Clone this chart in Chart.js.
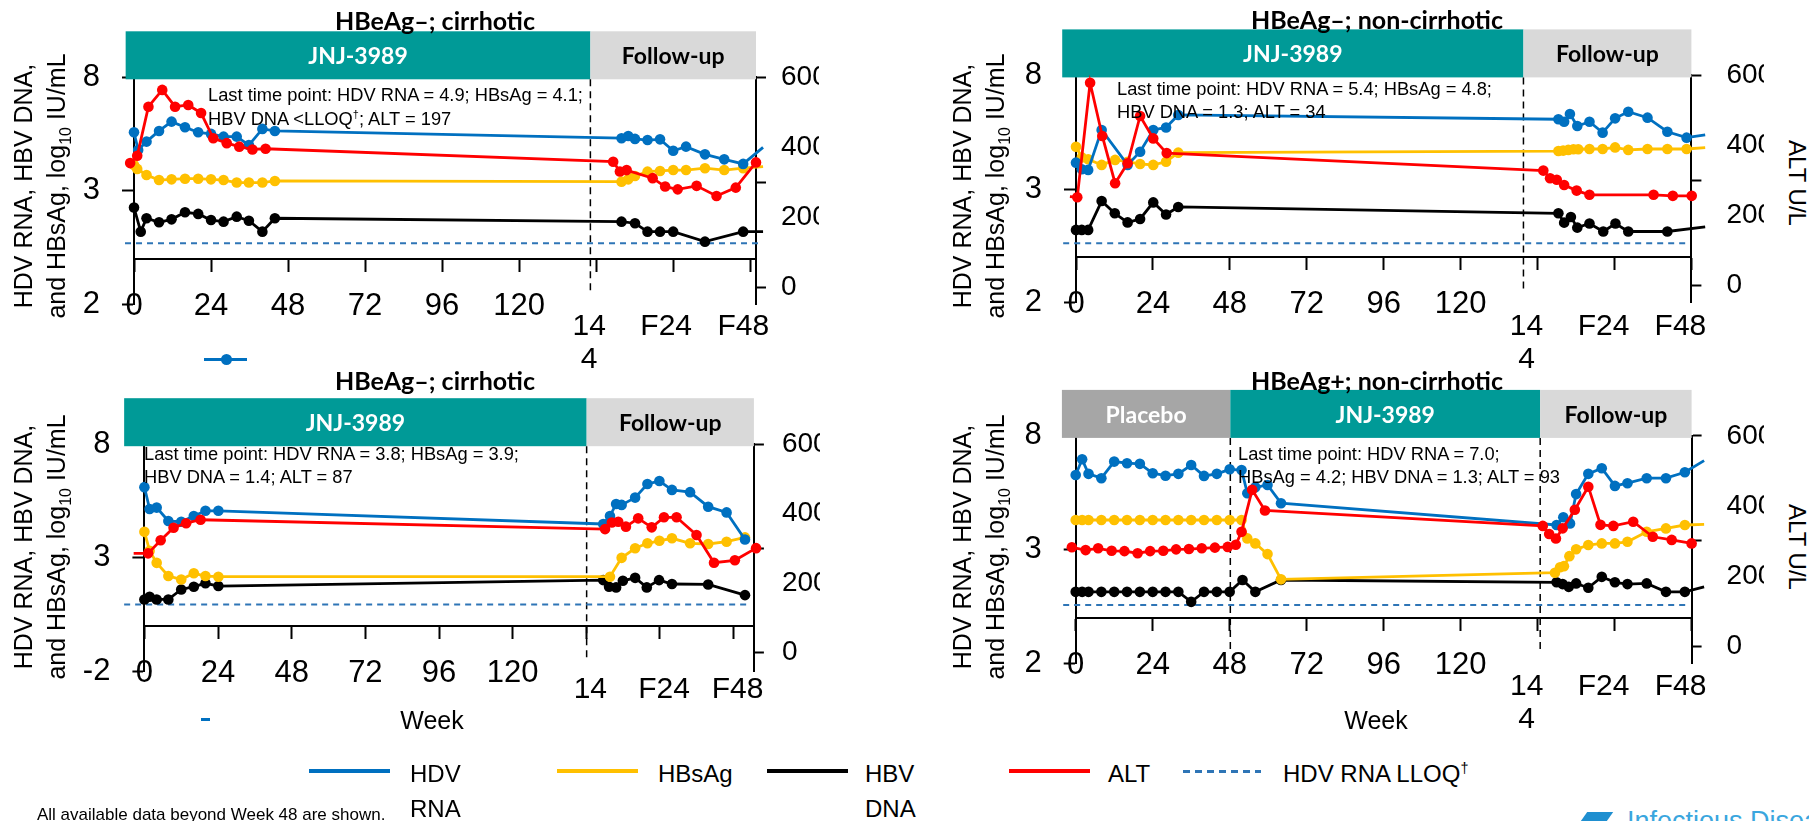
<!DOCTYPE html>
<html>
<head>
<meta charset="utf-8">
<title>HDV RNA, HBV DNA, HBsAg and ALT over time</title>
<script src="https://cdn.jsdelivr.net/npm/chart.js@4.4.1/dist/chart.umd.min.js"></script>
<style>
  html, body { margin: 0; padding: 0; background: #fff; overflow: hidden; }
  #page { position: relative; width: 1809px; height: 821px; overflow: hidden; background: #fff; }
  canvas { position: absolute; }
  .txt { position: absolute; white-space: nowrap; color: #000; }
  .title { font: bold 25px Lato, sans-serif; transform: translate(-50%, -50%); }
  .band { font: bold 23px Lato, sans-serif; transform: translate(-50%, -50%); }
  .note { font: 18.3px "Liberation Sans", Arial, sans-serif; line-height: 23.3px; }
  .note sup, .legtxt sup { font-size: 60%; line-height: 0; }
  .ytitle { font: 25px "Liberation Sans", Arial, sans-serif; line-height: 33px; text-align: center;
            transform: translate(-50%, -50%) rotate(-90deg); }
  .ytitle sub { font-size: 16px; line-height: 0; }
  .alttitle { font: 24px "Liberation Sans", Arial, sans-serif; transform: translate(-50%, -50%) rotate(90deg); }
  .week { font: 25px "Liberation Sans", Arial, sans-serif; transform: translate(-50%, -50%); }
  .legline { position: absolute; height: 4px; }
  .legtxt { position: absolute; font: 24px "Liberation Sans", Arial, sans-serif; line-height: 35px; white-space: nowrap; }
  .foot { position: absolute; left: 37px; top: 805px; font: 17px "Liberation Sans", Arial, sans-serif; white-space: nowrap; }
  .logo { position: absolute; left: 1627px; top: 806px; font: 27px "Liberation Sans", Arial, sans-serif; color: #3aa6de; white-space: nowrap; }
</style>
</head>
<body>
<div id="page">
  <canvas id="c1" width="819" height="380" style="left:0px;top:0px"></canvas>
  <canvas id="c2" width="764" height="380" style="left:1000px;top:0px"></canvas>
  <canvas id="c3" width="820" height="380" style="left:0px;top:360px"></canvas>
  <canvas id="c4" width="764" height="380" style="left:1000px;top:360px"></canvas>
</div>
<script>
// axis ticks
const weekTicks = [0, 24, 48, 72, 96, 120, 144, 168, 192];
const followTicks = [144, 168, 192];
const logTicks = [-2, 3, 8];
const altTicks = [0, 200, 300, 400, 600];

const titles = ['HBeAg–; cirrhotic', 'HBeAg–; non-cirrhotic', 'HBeAg–; cirrhotic', 'HBeAg+; non-cirrhotic'];
const notes = [
  ['Last time point: HDV RNA = 4.9; HBsAg = 4.1;', 'HBV DNA &lt;LLOQ<sup>†</sup>; ALT = 197'],
  ['Last time point: HDV RNA = 5.4; HBsAg = 4.8;', 'HBV DNA = 1.3; ALT = 34'],
  ['Last time point: HDV RNA = 3.8; HBsAg = 3.9;', 'HBV DNA = 1.4; ALT = 87'],
  ['Last time point: HDV RNA = 7.0;', 'HBsAg = 4.2; HBV DNA = 1.3; ALT = 93']
];
const logTickText = [['2', '3', '8'], ['2', '3', '8'], ['-2', '3', '8'], ['2', '3', '8']];
const followText = [
  [['14', '4'], 'F24', 'F48'],
  [['14', '4'], 'F24', 'F48'],
  ['14', 'F24', 'F48'],
  [['14', '4'], 'F24', 'F48']
];

// [week, value]; HDV/HBsAg/HBV in log10 IU/mL, ALT in U/L
const p1Alt = [[-3.3,352],[-1.2,355],[1,376],[4.5,516],[8.8,564],[12.8,516],[16.9,521],[20.9,498],[24.7,426],[28.9,412],[32.8,402],[36.9,394],[41,396],
  [149.3,359],[151.4,331],[153.5,335],[161.6,312],[165.5,288],[169.4,280],[175.3,290],[181.5,261],[187.5,285],[193.8,357]];
const p1Hdv = [[0,5.58],[1.3,4.8],[3.9,5.17],[7.8,5.64],[11.7,6.05],[15.9,5.8],[20,5.58],[24,5.51],[27.9,5.39],[32,5.39],[35.8,5.02],[40,5.73],[43.9,5.64],
  [151.9,5.32],[154,5.42],[156.1,5.29],[160,5.24],[163.9,5.27],[168,4.77],[172,4.95],[177.9,4.61],[183.9,4.39],[189.8,4.19],[196,4.92]];
const p1Hbs = [[0,4.14],[1,3.97],[3.9,3.7],[7.8,3.48],[11.7,3.51],[15.9,3.54],[20,3.54],[24,3.51],[27.9,3.48],[32,3.37],[35.8,3.37],[40,3.37],[43.9,3.44],
  [151.9,3.41],[154,3.51],[156.1,3.66],[160,3.85],[163.9,3.88],[168,3.92],[172,3.92],[177.9,4.0],[183.9,3.92],[189.8,4.0],[196,4.07]];
const p1Hbv = [[0,2.27],[2.1,1.21],[3.9,1.8],[7.8,1.62],[11.7,1.75],[15.9,2.06],[20,1.99],[24,1.72],[27.9,1.65],[32,1.87],[35.8,1.69],[40,1.21],[43.9,1.8],
  [151.9,1.65],[156.1,1.58],[160,1.21],[163.9,1.21],[168,1.21],[177.9,0.77],[189.8,1.21],[196,1.21]];
const p1Lloq = [[-2.8,0.7],[194.4,0.7]];
const p1Phases = [['JNJ-3989',-2.6,142.2],['Follow-up',142.2,193.8]];

const p2Alt = [[-4,261],[-1.9,254],[0.4,252],[4.4,579],[8.2,427],[12.2,292],[16.1,349],[20,484],[24.1,420],[28.3,378],
  [145.8,328],[147.9,306],[150,302],[152.3,287],[156.2,271],[160.2,259],[180.2,259],[186.2,256],[192.1,256]];
const p2Hdv = [[0,4.16],[1.8,3.87],[3.8,3.84],[8,5.6],[16.1,4.06],[20,4.64],[24.1,5.6],[28.1,5.71],[31.9,6.26],
  [150.5,6.07],[152.3,5.96],[154.1,6.3],[156.4,5.77],[160.2,5.96],[164.3,5.48],[168.2,6.11],[172.3,6.4],[178.3,6.14],[184.5,5.52],[190.5,5.26],[196.3,5.38]];
const p2Hbs = [[0,4.86],[1.8,4.39],[3.8,4.31],[8,4.06],[12.2,4.28],[16.1,4.2],[20,4.1],[24.1,4.06],[28.1,4.2],[31.9,4.6],
  [150.5,4.67],[152,4.69],[153.6,4.72],[155.2,4.75],[156.7,4.75],[160.2,4.76],[164.3,4.76],[168.2,4.83],[172.3,4.72],[178.3,4.76],[184.5,4.76],[190.5,4.76],[196.3,4.82]];
const p2Hbv = [[0,1.2],[1.8,1.2],[3.8,1.2],[8,2.47],[12.1,1.93],[16.1,1.53],[20,1.68],[24.1,2.41],[28.1,1.88],[31.9,2.21],
  [150.5,1.93],[152.3,1.52],[154.4,1.77],[156.4,1.3],[160.2,1.48],[164.5,1.13],[168.3,1.48],[172.3,1.13],[184.5,1.13],[196.3,1.33]];
const p2Lloq = [[-4,0.61],[190.5,0.61]];
const p2Phases = [['JNJ-3989',-4.3,139.6],['Follow-up',139.6,192]];

const p3Alt = [[-7.6,290],[-5.5,286],[-3.5,285],[1.2,285],[5.3,323],[9.5,359],[13.6,372],[18.3,382],
  [150.1,355],[152.3,374],[154.4,376],[156.9,362],[160.9,386],[165.3,360],[169.3,389],[173.4,389],[179.9,338],[185.6,258],[192.4,265],[199.3,300]];
const p3Hdv = [[0,6.11],[1.7,5.15],[4,5.21],[7.8,4.62],[12,4.59],[16.1,4.84],[19.9,5.07],[24.1,5.07],
  [149.5,4.49],[151.7,4.84],[153.7,5.37],[155.5,5.33],[159.9,5.65],[163.9,6.25],[167.8,6.38],[171.9,5.99],[177.8,5.89],[183.7,5.25],[189.7,5.0],[195.7,3.81]];
const p3Hbs = [[0,4.15],[1.7,3.31],[4,2.78],[7.8,2.2],[12,2.05],[16.1,2.32],[19.9,2.2],[24.1,2.17],
  [151.7,2.17],[155.5,3.0],[159.9,3.42],[163.9,3.64],[167.8,3.75],[171.9,3.86],[177.8,3.64],[183.7,3.61],[189.7,3.71],[195.7,3.9]];
const p3Hbv = [[0,1.17],[1.7,1.29],[4,1.17],[7.8,1.17],[12,1.61],[16.1,1.73],[19.9,1.88],[24.1,1.76],
  [149.5,2.02],[151.4,1.73],[153.7,1.7],[155.9,1.99],[159.9,2.12],[163.7,1.7],[167.7,2.02],[171.9,1.85],[183.7,1.83],[195.7,1.36]];
const p3Lloq = [[-6.6,0.95],[196.5,0.95]];
const p3Phases = [['JNJ-3989',-6.6,144.1],['Follow-up',144.1,198.6]];

const p4Alt = [[-5.4,282],[-3.3,282],[-1.2,282],[3.1,274],[7,279],[11.2,272],[15.2,271],[19.3,265],[23.2,271],[27.3,272],[31.3,276],[35.3,277],[39.3,279],[43.4,281],[47.4,283],[49.9,289],[51.7,326],[55,446],[59,387],
  [145.6,343],[147.6,320],[149.7,307],[151.8,336],[155.6,389],[159.8,455],[163.6,346],[167.6,343],[173.8,355],[179.9,312],[185.8,303],[192,293]];
const p4Hdv = [[0,6.28],[2,6.97],[4,6.33],[8,6.14],[12,6.87],[16,6.8],[20,6.77],[24,6.36],[28,6.25],[32,6.33],[36,6.72],[40,6.24],[44,6.33],[48,6.53],[51.7,6.5],[53.5,5.48],[56,5.74],[59.8,5.84],[64,5.04],
  [149.9,4.08],[152,4.42],[154.1,4.15],[156,5.44],[159.8,6.33],[164,6.58],[168.1,5.8],[172,5.92],[178,6.14],[184,6.14],[189.9,6.4],[195.9,6.91]];
const p4Hbs = [[0,4.3],[2,4.3],[4,4.3],[8,4.3],[12,4.3],[16,4.3],[20,4.3],[24,4.3],[28,4.3],[32,4.3],[36,4.3],[40,4.3],[44,4.3],[48,4.3],[51.7,4.3],[53.5,3.49],[56,3.27],[59.8,2.8],[64,1.69],
  [149.4,1.98],[151,2.22],[152.2,2.27],[153.9,2.71],[156,3.01],[159.8,3.2],[164,3.27],[168.1,3.27],[172,3.34],[178,3.78],[184,3.93],[189.9,4.08],[195.9,4.11]];
const p4Hbv = [[0,1.14],[2,1.14],[4,1.14],[8,1.14],[12,1.14],[16,1.14],[20,1.14],[24,1.14],[28,1.14],[32,1.14],[36,0.7],[40,1.14],[44,1.14],[48,1.14],[52,1.66],[56,1.14],[64,1.66],
  [149.9,1.56],[151.8,1.48],[153.7,1.36],[156,1.51],[159.8,1.32],[164,1.8],[168.1,1.56],[172,1.48],[178,1.51],[184,1.14],[189.9,1.14],[195.9,1.36]];
const p4Lloq = [[-3.9,0.56],[190.6,0.56]];
const p4Phases = [['Placebo',-4.3,48.2],['JNJ-3989',48.2,144.8],['Follow-up',144.8,192]];

const panelData = [
  {alt: p1Alt, hdv: p1Hdv, hbs: p1Hbs, hbv: p1Hbv, lloq: p1Lloq, phases: p1Phases},
  {alt: p2Alt, hdv: p2Hdv, hbs: p2Hbs, hbv: p2Hbv, lloq: p2Lloq, phases: p2Phases},
  {alt: p3Alt, hdv: p3Hdv, hbs: p3Hbs, hbv: p3Hbv, lloq: p3Lloq, phases: p3Phases},
  {alt: p4Alt, hdv: p4Hdv, hbs: p4Hbs, hbv: p4Hbv, lloq: p4Lloq, phases: p4Phases}
];

// looks and placement
const seriesStyle = [
  {key: 'alt', color: '#ff0000', axis: 'y3'},
  {key: 'hdv', color: '#0070c0', axis: 'y'},
  {key: 'hbs', color: '#ffc000', axis: 'y'},
  {key: 'hbv', color: '#000000', axis: 'y'}
];
const phaseColors = {'JNJ-3989': '#009a97', 'Follow-up': '#d9d9d9', 'Placebo': '#a6a6a6'};

const layout = [
  {id: 'c1', left: 0, top: 0, axisW: 134, rightW: 63, padTop: 77.3, padBottom: 75.4, xMax: 193.8, altMin: -49, rightPad: 15, followPad: 51.5, followOffset: -7,
   title: [435, 20], note: [208, 95], ytitle: [39.5, 186], alt: null},
  {id: 'c2', left: 1000, top: 0, axisW: 76, rightW: 72.6, padTop: 75.4, padBottom: 77.4, xMax: 192, altMin: -49, rightPad: 25, followPad: 53.5, followOffset: -11,
   title: [1377, 19], note: [1117, 88.3], ytitle: [978.5, 186], alt: [1797, 183]},
  {id: 'c3', left: 0, top: 360, axisW: 144.4, rightW: 66.1, padTop: 84.2, padBottom: 68.5, xMax: 198.6, altMin: -56, rightPad: 18, followPad: 47.5, followOffset: 4,
   title: [435, 380], note: [144, 453.3], ytitle: [39.5, 547], alt: null},
  {id: 'c4', left: 1000, top: 360, axisW: 75.7, rightW: 72.4, padTop: 75.9, padBottom: 76.8, xMax: 192, altMin: -49, rightPad: 25, followPad: 52.5, followOffset: -11,
   title: [1377, 380], note: [1238, 453.3], ytitle: [978.5, 547], alt: [1797, 547]}
];

const page = document.getElementById('page');
function addText(html, x, y, cls, color) {
  const d = document.createElement('div');
  d.className = 'txt ' + cls;
  d.innerHTML = html;
  d.style.left = x + 'px';
  d.style.top = y + 'px';
  if (color) d.style.color = color;
  page.appendChild(d);
  return d;
}

// treatment phase bands above the plot and dashed lines at phase changes
const phasePlugin = {
  id: 'phases',
  beforeDatasetsDraw(chart, args, opts) {
    const {ctx, chartArea, scales} = chart;
    const x = scales.x, y = scales.y;
    ctx.save();
    opts.phases.forEach(([label, a, b]) => {
      const x0 = x.getPixelForValue(a), x1 = x.getPixelForValue(b);
      ctx.fillStyle = phaseColors[label];
      ctx.fillRect(x0, chartArea.top - 46, x1 - x0, 48);
    });
    ctx.setLineDash([7, 5]);
    ctx.lineWidth = 1.5;
    ctx.strokeStyle = '#000';
    opts.phases.slice(1).forEach(([, a]) => {
      const px = x.getPixelForValue(a);
      ctx.beginPath();
      ctx.moveTo(px, chartArea.top + 2);
      ctx.lineTo(px, y.getPixelForValue(-1.5));
      ctx.stroke();
    });
    ctx.restore();
  }
};

const tickFont = {family: 'Liberation Sans', size: 31};
// the week axes sit inside the plot, so keep their label padding out of the layout
const noSidePadding = s => { s.paddingLeft = 0; s.paddingRight = 0; };

function buildPanel(i) {
  const L = layout[i], D = panelData[i];
  const datasets = seriesStyle.map(s => ({
    label: s.key,
    data: D[s.key].map(([x, y]) => ({x, y})),
    xAxisID: 'x', yAxisID: s.axis,
    borderColor: s.color, backgroundColor: s.color, pointBackgroundColor: s.color,
    pointBorderWidth: 0, pointRadius: 5.3, borderWidth: 2.8, clip: false
  }));
  datasets.push({
    label: 'lloq',
    data: D.lloq.map(([x, y]) => ({x, y})),
    xAxisID: 'x', yAxisID: 'y',
    borderColor: '#2e75b6', borderDash: [6, 5], borderWidth: 2, pointRadius: 0, clip: false
  });

  const chart = new Chart(document.getElementById(L.id), {
    type: 'line',
    data: {datasets},
    options: {
      responsive: false,
      animation: false,
      events: [],
      layout: {padding: {left: 0, right: 0, top: L.padTop, bottom: L.padBottom}},
      plugins: {legend: {display: false}, tooltip: {enabled: false}, phases: {phases: D.phases}},
      scales: {
        x: {
          type: 'linear', min: 0, max: L.xMax, position: {y: 0},
          afterBuildTicks: s => { s.ticks = weekTicks.map(v => ({value: v})); },
          afterFit: noSidePadding,
          ticks: {callback: v => (v <= 120 ? String(v) : ''), font: tickFont, color: '#000', padding: 17, maxRotation: 0, autoSkip: false},
          grid: {drawOnChartArea: false, tickLength: 12, tickWidth: 2, tickColor: '#000'},
          border: {color: '#000', width: 2}
        },
        x2: {
          type: 'linear', min: 0, max: L.xMax, position: {y: 0},
          afterBuildTicks: s => { s.ticks = followTicks.map(v => ({value: v})); },
          afterFit: noSidePadding,
          ticks: {callback: (v, idx) => followText[i][idx], font: {family: 'Liberation Sans', size: 30, lineHeight: 1.1},
                  color: '#000', padding: L.followPad, labelOffset: L.followOffset, maxRotation: 0, autoSkip: false},
          grid: {display: false, drawTicks: false},
          border: {display: false}
        },
        y: {
          type: 'linear', position: 'left', min: -2, max: 8,
          afterBuildTicks: s => { s.ticks = logTicks.map(v => ({value: v})); },
          afterFit: s => { s.width = L.axisW; },
          ticks: {callback: (v, idx) => logTickText[i][idx], font: tickFont, color: '#000', padding: 22},
          grid: {drawOnChartArea: false, tickLength: 12, tickWidth: 2, tickColor: '#000'},
          border: {color: '#000', width: 2}
        },
        y3: {
          type: 'linear', position: 'right', min: L.altMin, max: 600,
          afterBuildTicks: s => { s.ticks = altTicks.map(v => ({value: v})); },
          afterFit: s => { s.width = L.rightW; },
          ticks: {callback: v => (v === 300 ? '' : String(v)), font: {family: 'Liberation Sans', size: 28}, color: '#000', padding: L.rightPad},
          grid: {drawOnChartArea: false, tickLength: 10, tickWidth: 2,
                 tickColor: c => (c.tick && c.tick.value % 300 === 0 ? '#000' : 'rgba(0,0,0,0)')},
          border: {color: '#000', width: 2}
        }
      }
    },
    plugins: [phasePlugin]
  });

  // labels on the phase bands
  D.phases.forEach(([label, a, b]) => {
    const cx = L.left + chart.scales.x.getPixelForValue((a + b) / 2);
    const cy = L.top + chart.chartArea.top - 22;
    addText(label, cx, cy, 'band', label === 'Follow-up' ? '#000' : '#fff');
  });

  addText(titles[i], L.title[0], L.title[1], 'title');
  addText(notes[i].join('<br>'), L.note[0], L.note[1] - 11.65, 'note');
  addText('HDV RNA, HBV DNA,<br>and HBsAg, log<sub>10</sub> IU/mL', L.ytitle[0], L.ytitle[1], 'ytitle');
  if (L.alt) addText('ALT U/L', L.alt[0], L.alt[1], 'alttitle');
}

for (let i = 0; i < 4; i++) buildPanel(i);

addText('Week', 432, 720, 'week');
addText('Week', 1376, 720, 'week');

// shared legend
const legendItems = [
  {text: 'HDV<br>RNA', color: '#0070c0', x0: 309, x1: 390, tx: 410},
  {text: 'HBsAg', color: '#ffc000', x0: 557, x1: 638, tx: 658},
  {text: 'HBV<br>DNA', color: '#000000', x0: 767, x1: 848, tx: 865},
  {text: 'ALT', color: '#ff0000', x0: 1009, x1: 1090, tx: 1108},
  {text: 'HDV RNA LLOQ<sup>†</sup>', color: '#2e75b6', x0: 1183, x1: 1261, tx: 1283, dashed: true}
];
legendItems.forEach(it => {
  const ln = document.createElement('div');
  ln.className = 'legline';
  ln.style.left = it.x0 + 'px';
  ln.style.top = '769px';
  ln.style.width = (it.x1 - it.x0) + 'px';
  ln.style.background = it.dashed
    ? `repeating-linear-gradient(90deg, ${it.color} 0 7px, transparent 7px 12px)`
    : it.color;
  if (it.dashed) { ln.style.height = '3px'; ln.style.top = '770px'; }
  page.appendChild(ln);
  const t = document.createElement('div');
  t.className = 'legtxt';
  t.innerHTML = it.text;
  t.style.left = it.tx + 'px';
  t.style.top = '756px';
  page.appendChild(t);
});

// stray marks left over in the source figure
const stray = document.createElement('div');
stray.style.cssText = 'position:absolute;left:204px;top:358px;width:43px;height:3px;background:#0070c0';
page.appendChild(stray);
const strayDot = document.createElement('div');
strayDot.style.cssText = 'position:absolute;left:221px;top:354px;width:11px;height:11px;border-radius:50%;background:#0070c0';
page.appendChild(strayDot);
const stray2 = document.createElement('div');
stray2.style.cssText = 'position:absolute;left:201px;top:718px;width:9px;height:3px;background:#0070c0';
page.appendChild(stray2);

const foot = document.createElement('div');
foot.className = 'foot';
foot.textContent = 'All available data beyond Week 48 are shown.';
page.appendChild(foot);

const logoMark = document.createElement('div');
logoMark.style.cssText = 'position:absolute;left:1583px;top:812px;width:26px;height:12px;background:#1f8fd0;transform:skewX(-35deg)';
page.appendChild(logoMark);
const logo = document.createElement('div');
logo.className = 'logo';
logo.textContent = 'Infectious Diseases';
page.appendChild(logo);
</script>
</body>
</html>
